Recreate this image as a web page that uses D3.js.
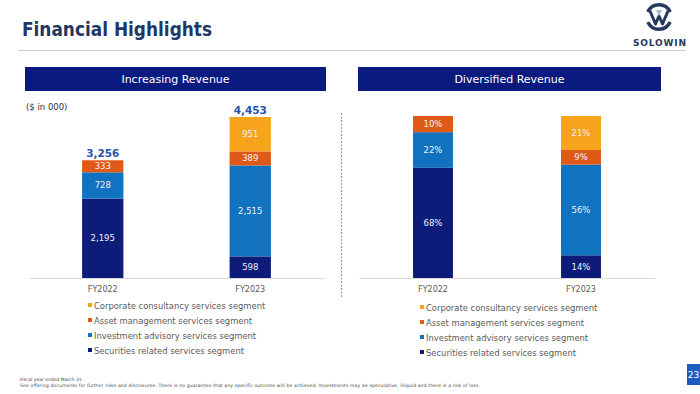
<!DOCTYPE html>
<html>
<head>
    <title>Financial Highlights</title>
    <style>
        body { margin: 0; background: #fff; }
        text { font-family: "DejaVu Sans", sans-serif; }
    </style>
</head>
<body>
<script src="https://cdnjs.cloudflare.com/ajax/libs/d3/7.8.5/d3.min.js"></script>
<script>
    var width = 700,
        height = 394;

    // data
    var years = ['FY2022', 'FY2023'];
    var segments = ['Securities related services segment', 'Investment advisory services segment',
        'Asset management services segment', 'Corporate consultancy services segment'];
    var securities = [2195, 598],
        advisory = [728, 2515],
        asset = [333, 389],
        corporate = [0, 951];
    var totals = [3256, 4453];
    var securitiesPct = [68, 14],
        advisoryPct = [22, 56],
        assetPct = [10, 9],
        corporatePct = [0, 21];

    var colors = ['#0c1c78', '#1172c0', '#de5a16', '#f7a31c'];

    var svg = d3.select('body').append('svg')
            .attr('width', width)
            .attr('height', height);

    // page header
    svg.append('text')
            .attr('x', 22).attr('y', 36)
            .attr('textLength', 190)
            .attr('lengthAdjust', 'spacingAndGlyphs')
            .style('font-size', '19px').style('font-weight', 'bold')
            .style('fill', '#1f3864')
            .text('Financial Highlights');

    svg.append('line')
            .attr('x1', 18).attr('x2', 686)
            .attr('y1', 50.5).attr('y2', 50.5)
            .style('stroke', '#cfcfcf');

    // logo
    var logo = svg.append('g').attr('transform', 'translate(659,17)');
    var ring = d3.arc().innerRadius(10.5).outerRadius(14);
    logo.append('path').attr('d', ring({startAngle: -1.15, endAngle: 1.15})).style('fill', '#24395c');
    logo.append('path').attr('d', ring({startAngle: 2.0, endAngle: 4.28})).style('fill', '#24395c');
    logo.append('path')
            .attr('d', 'M-9,-6 L-3.5,7 L0,-1 L3.5,7 L9,-6')
            .style('fill', 'none').style('stroke', '#24395c').style('stroke-width', 3)
            .style('stroke-linejoin', 'round');
    logo.append('path')
            .attr('d', 'M-3,-7 L0,-1 L3,-7 Z')
            .style('fill', '#a9b6d4');
    svg.append('text')
            .attr('x', 633).attr('y', 45.5)
            .attr('textLength', 53)
            .style('font-size', '9px').style('font-weight', 'bold')
            .style('fill', '#24395c')
            .text('SOLOWIN');

    // panel title bars
    var panels = [
        {title: 'Increasing Revenue', x: 25, w: 301},
        {title: 'Diversified Revenue', x: 358, w: 303}
    ];
    panels.forEach(function (p) {
        svg.append('rect')
                .attr('x', p.x).attr('y', 67)
                .attr('width', p.w).attr('height', 24)
                .style('fill', '#0b1a7e');
        svg.append('text')
                .attr('x', p.x + p.w / 2).attr('y', 83)
                .attr('text-anchor', 'middle')
                .style('font-size', '11px')
                .style('fill', '#fff')
                .text(p.title);
    });

    // divider
    svg.append('line')
            .attr('x1', 341.5).attr('x2', 341.5)
            .attr('y1', 113).attr('y2', 298)
            .style('stroke', '#7d8fb8')
            .style('stroke-dasharray', '2,1.5');

    svg.append('text')
            .attr('x', 26).attr('y', 110)
            .style('font-size', '8.5px')
            .style('fill', '#333')
            .text('($ in 000)');

    function stackChart(g, series, xRange, yScale, fmt, inner, outer) {
        var x = d3.scaleBand().domain(years).range(xRange)
                .paddingInner(inner).paddingOuter(outer);

        var rows = years.map(function (yr, i) {
            var r = {year: yr};
            series.forEach(function (s, k) { r[segments[k]] = s[i]; });
            return r;
        });
        var stack = d3.stack().keys(segments)(rows);

        var layer = g.selectAll('g.layer')
                .data(stack)
                .enter().append('g')
                .attr('class', 'layer')
                .style('fill', function (d, k) { return colors[k]; });

        layer.selectAll('rect')
                .data(function (d) { return d; })
                .enter().append('rect')
                .attr('x', function (d) { return x(d.data.year); })
                .attr('width', x.bandwidth())
                .attr('y', function (d) { return yScale(d[1]); })
                .attr('height', function (d) { return yScale(d[0]) - yScale(d[1]); });

        layer.selectAll('text')
                .data(function (d) { return d.filter(function (v) { return v[1] - v[0] > 0; }); })
                .enter().append('text')
                .attr('x', function (d) { return x(d.data.year) + x.bandwidth() / 2; })
                .attr('y', function (d) { return (yScale(d[0]) + yScale(d[1])) / 2 + 3; })
                .attr('text-anchor', 'middle')
                .style('font-size', '8.5px')
                .style('fill', '#eef0f8')
                .text(function (d) { return fmt(d[1] - d[0]); });

        var axis = g.append('g')
                .attr('transform', 'translate(0,' + yScale(0) + ')')
                .call(d3.axisBottom(x).tickSize(0).tickPadding(8));
        axis.select('.domain').style('stroke', '#d9d9d9');
        axis.selectAll('text')
                .style('font-family', '"DejaVu Sans", sans-serif')
                .style('font-size', '8px')
                .style('fill', '#595959');
        return x;
    }

    // left: revenue
    var yLeft = d3.scaleLinear().domain([0, d3.max(totals)]).range([278, 117]);
    var left = svg.append('g');
    var xLeft = stackChart(left, [securities, advisory, asset, corporate], [29, 324], yLeft,
            d3.format(','), 0.72, 0.36);

    left.selectAll('text.total')
            .data(totals)
            .enter().append('text')
            .attr('class', 'total')
            .attr('x', function (d, i) { return xLeft(years[i]) + xLeft.bandwidth() / 2; })
            .attr('y', function (d) { return yLeft(d) - 3; })
            .attr('text-anchor', 'middle')
            .style('font-size', '10.5px').style('font-weight', 'bold')
            .style('fill', '#2553ad')
            .text(function (d) { return d3.format(',')(d); });

    // right: share
    var yRight = d3.scaleLinear().domain([0, 100]).range([278, 116]);
    var right = svg.append('g');
    stackChart(right, [securitiesPct, advisoryPct, assetPct, corporatePct], [359, 655], yRight,
            function (v) { return v + '%'; }, 0.73, 0.365);

    // legends
    function legend(x, y) {
        var lg = svg.append('g').attr('transform', 'translate(' + x + ',' + y + ')');
        var items = lg.selectAll('g')
                .data(segments.slice().reverse())
                .enter().append('g')
                .attr('transform', function (d, i) { return 'translate(0,' + i * 15 + ')'; });
        items.append('rect')
                .attr('x', 0).attr('y', -3)
                .attr('width', 4).attr('height', 4)
                .style('fill', function (d, i) { return colors[3 - i]; });
        items.append('text')
                .attr('x', 6).attr('y', 2.5)
                .style('font-size', '8.4px')
                .style('fill', '#595959')
                .text(function (d) { return d; });
    }
    legend(88, 306);
    legend(420, 308);

    // footer
    svg.append('text')
            .attr('x', 20).attr('y', 381)
            .style('font-size', '4.5px').style('fill', '#444')
            .text('Fiscal year ended March 31');
    svg.append('text')
            .attr('x', 20).attr('y', 387)
            .attr('textLength', 460)
            .style('font-size', '4.5px').style('fill', '#444')
            .text('See offering documents for further risks and disclosures. There is no guarantee that any specific outcome will be achieved. Investments may be speculative, illiquid and there is a risk of loss.');

    svg.append('rect')
            .attr('x', 687).attr('y', 364)
            .attr('width', 13).attr('height', 21)
            .style('fill', '#1f5cc0');
    svg.append('text')
            .attr('x', 693.5).attr('y', 378)
            .attr('text-anchor', 'middle')
            .style('font-size', '9px')
            .style('fill', '#fff')
            .text('23');
</script>
</body>
</html>
